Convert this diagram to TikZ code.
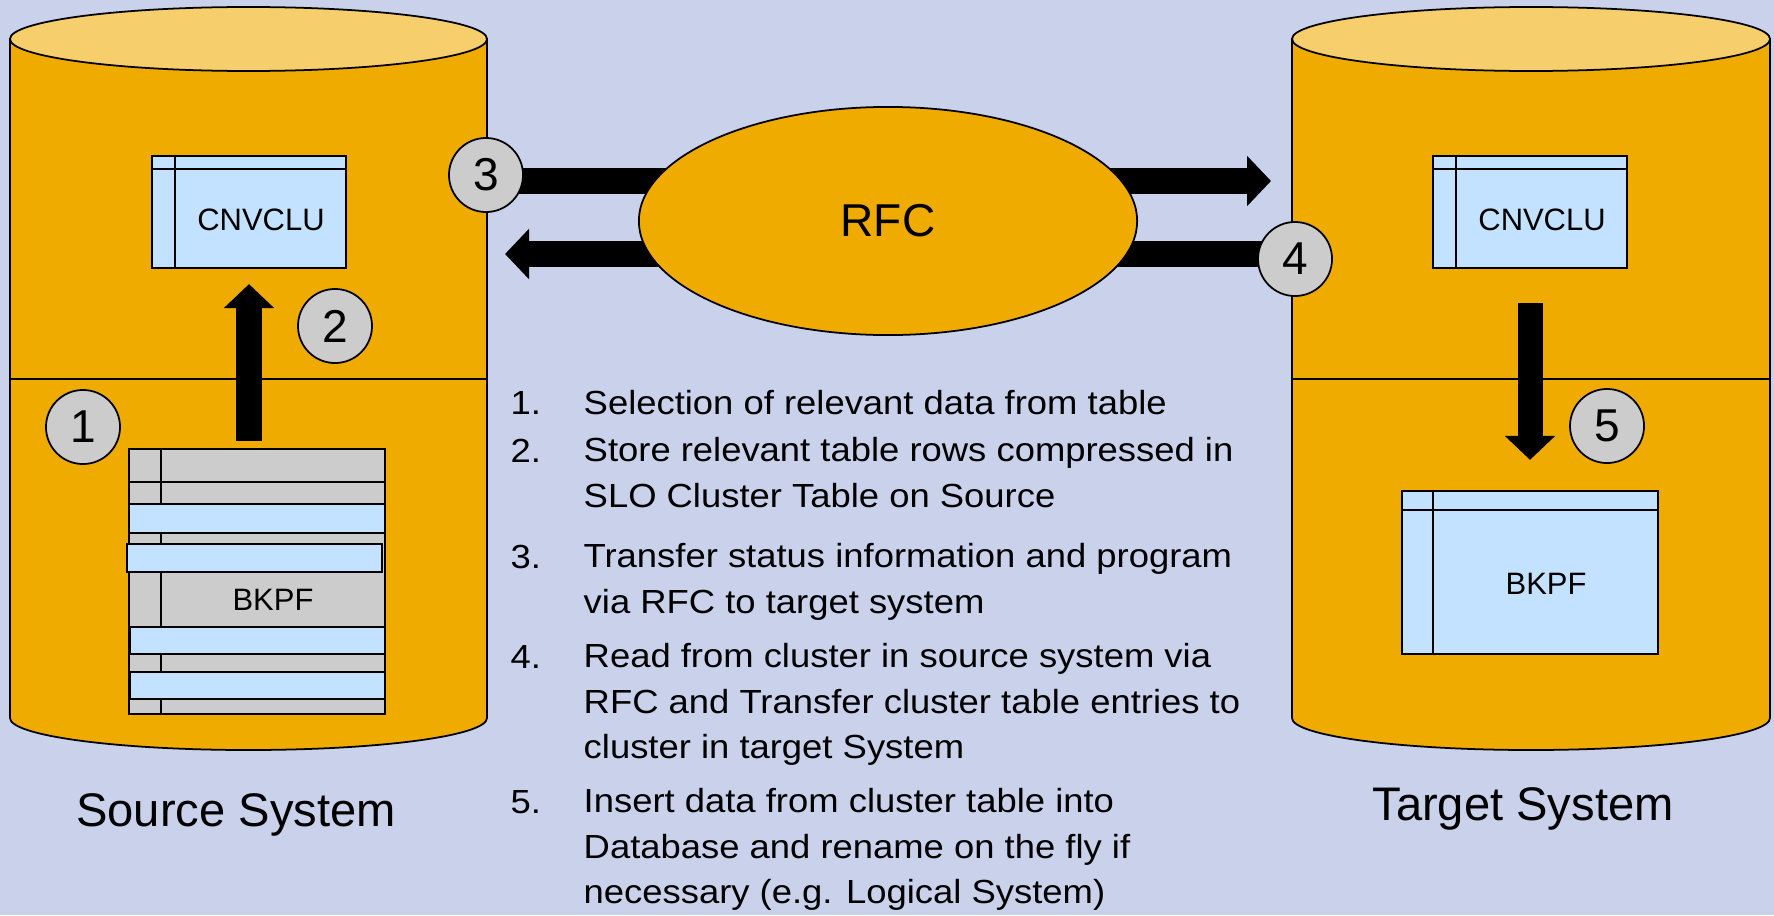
\documentclass[tikz,border=0pt]{standalone}
\usepackage{fontspec}
\setmainfont{Liberation Sans}
\newfontfamily\listfont[FakeStretch=1.09]{Liberation Sans}
\usetikzlibrary{arrows.meta,shapes.geometric}

\definecolor{slidebg}{RGB}{201,209,235}
\definecolor{dborange}{RGB}{240,171,0}
\definecolor{dbtop}{RGB}{246,206,108}
\definecolor{tabblue}{RGB}{194,226,255}
\definecolor{tabgray}{RGB}{204,204,204}

\pgfdeclarelayer{back}
\pgfdeclarelayer{mid}
\pgfsetlayers{back,mid,main}

\tikzset{
  dbline/.style={draw=black, line width=0.5pt},
  tabbox/.style={draw, line width=0.6pt, fill=tabblue, inner sep=0pt},
  tabname/.style={inner sep=0pt, font=\fontsize{8.8}{10}\selectfont},
  badge/.style={circle, draw, line width=0.5pt, fill=tabgray, minimum size=0.74cm,
    inner sep=0pt, font=\fontsize{13.1}{15}\selectfont},
  bigarrow/.style={line width=0.25cm, -{Triangle[width=0.49cm,length=0.24cm]}},
  sysname/.style={anchor=base, inner sep=0pt, font=\fontsize{13.4}{16}\selectfont},
  itemnum/.style={anchor=base west, inner sep=0pt, font=\listfont\fontsize{9.5}{12.8}\selectfont},
  itemtxt/.style={itemnum, align=left},
}

% header row and key column of a table box
\newcommand{\tabrules}[3]{%
  \draw[line width=0.6pt] ([yshift=-#2]#1.north west) -- ([yshift=-#2]#1.north east);
  \draw[line width=0.6pt] ([xshift=#3]#1.north west) -- ([xshift=#3]#1.south west);
}

\begin{document}
\begin{tikzpicture}[x=0.01cm,y=-0.01cm]
  \useasboundingbox (0,0) rectangle (1774,915);

  \begin{pgfonlayer}{back}
    \fill[slidebg] (0,0) rectangle (1774,915);
    % source database
    \filldraw[dbline, fill=dborange] (10,39) -- (10,718)
      arc[start angle=180, end angle=0, x radius=238.5, y radius=32] -- (487,39) -- cycle;
    \filldraw[dbline, fill=dbtop] (248.5,39) ellipse [x radius=238.5, y radius=32];
    \draw[dbline] (10,379) -- (487,379);
    % target database
    \filldraw[dbline, fill=dborange] (1292,39) -- (1292,718)
      arc[start angle=180, end angle=0, x radius=239, y radius=32] -- (1770,39) -- cycle;
    \filldraw[dbline, fill=dbtop] (1531,39) ellipse [x radius=239, y radius=32];
    \draw[dbline] (1292,379) -- (1770,379);
  \end{pgfonlayer}

  % source side tables
  \node[tabbox, minimum width=1.94cm, minimum height=1.12cm] (srccnv) at (249,212) {};
  \tabrules{srccnv}{0.14cm}{0.24cm}
  \node[tabname] (srccnvlbl) at ([xshift=0.12cm,yshift=-0.08cm]srccnv.center) {CNVCLU};

  \node[tabbox, fill=tabgray, minimum width=2.56cm, minimum height=2.65cm] (srcbkpf) at (257,581.5) {};
  \draw[line width=0.6pt] (129,482) -- (385,482);
  \draw[line width=0.6pt] (161,449) -- (161,714);
  % selected rows
  \foreach \xa/\ya/\xb/\yb in {129/504/385/533, 127/544/382/572, 130/627/385/654, 130/672/385/699}
    \draw[line width=0.6pt, fill=tabblue] (\xa,\ya) rectangle (\xb,\yb);
  \node[tabname] (srcbkpflbl) at (273,599.5) {BKPF};

  % target side tables
  \node[tabbox, minimum width=1.94cm, minimum height=1.12cm] (tgtcnv) at (1530,212) {};
  \tabrules{tgtcnv}{0.14cm}{0.24cm}
  \node[tabname] (tgtcnvlbl) at ([xshift=0.12cm,yshift=-0.08cm]tgtcnv.center) {CNVCLU};

  \node[tabbox, minimum width=2.56cm, minimum height=1.63cm] (tgtbkpf) at (1530,572.5) {};
  \tabrules{tgtbkpf}{0.20cm}{0.32cm}
  \node[tabname] (tgtbkpflbl) at ([xshift=0.16cm,yshift=-0.115cm]tgtbkpf.center) {BKPF};

  \node[ellipse, draw, line width=0.5pt, fill=dborange, minimum width=4.98cm, minimum height=2.28cm,
    inner sep=0pt, font=\fontsize{13.1}{15}\selectfont] (rfc) at (888,221) {RFC};

  % steps
  \node[badge] (n1) at (83,427) {1};
  \node[badge] (n2) at (335,326) {2};
  \node[badge] (n3) at (486,175) {3};
  \node[badge] (n4) at (1295,259) {4};
  \node[badge] (n5) at (1607,426) {5};

  \coordinate (out3) at (1271,181);
  \coordinate (in4) at (505,254);
  \coordinate (up2) at (srcbkpf.north -| srccnv.south);
  \begin{pgfonlayer}{mid}
    \draw[bigarrow] (n3 |- out3) -- (out3);
    \draw[bigarrow] (n4 |- in4) -- (in4);
    \draw[bigarrow] ([yshift=0.07cm]up2) -- ([yshift=-0.15cm]srccnv.south);
    \draw[bigarrow] ([yshift=-0.34cm]tgtcnv.south) -- ([yshift=0.30cm]tgtbkpf.north);
  \end{pgfonlayer}

  \node[sysname] (srcname) at (236,826) {Source System};
  \node[sysname] (tgtname) at (1523,820) {Target System};

  % step list (base of a wrapped item is its last line)
  \node[itemnum] (s1num) at (510,414) {1.};
  \node[itemtxt] (s1) at (583,414) {Selection of relevant data from table};
  \node[itemnum] (s2num) at (510,462) {2.};
  \node[itemtxt] (s2) at (583,507) {Store relevant table rows compressed in\\SLO Cluster Table on Source};
  \node[itemnum] (s3num) at (510,568) {3.};
  \node[itemtxt] (s3) at (583,613) {Transfer status information and program\\via RFC to target system};
  \node[itemnum] (s4num) at (510,668) {4.};
  \node[itemtxt] (s4) at (583,758) {Read from cluster in source system via\\RFC and Transfer cluster table entries to\\cluster in target System};
  \node[itemnum] (s5num) at (510,813) {5.};
  \node[itemtxt] (s5) at (583,903) {Insert data from cluster table into\\Database and rename on the fly if\\necessary (e.g. Logical System)};
\end{tikzpicture}
\end{document}
